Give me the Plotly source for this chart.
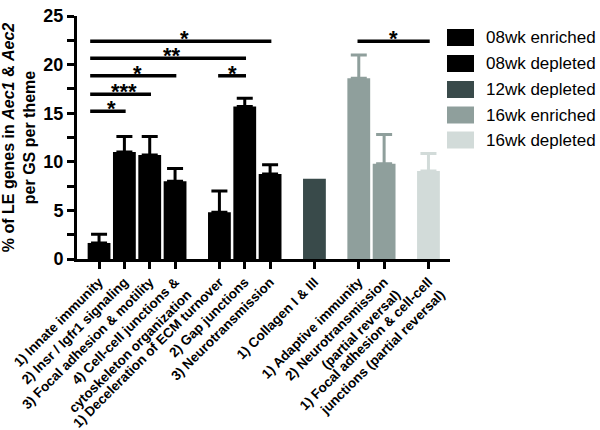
import plotly.graph_objects as go

# ---------------- data ----------------
positions = [0, 1, 2, 3, 4.75, 5.75, 6.75, 8.5, 10.25, 11.25, 13.0]
tick_labels = [
    "1) Innate immunity",
    "2) Insr / Igfr1 signaling",
    "3) Focal adhesion & motility",
    "4) Cell-cell junctions &<br>cytoskeleton organization",
    "1) Deceleration of ECM turnover",
    "2) Gap junctions",
    "3) Neurotransmission",
    "1) Collagen I & III",
    "1) Adaptive immunity",
    "2) Neurotransmission<br>(partial reversal)",
    "1) Focal adhesion & cell-cell<br>junctions (partial reversal)",
]

series_names = ["08wk enriched", "08wk depleted", "12wk depleted", "16wk enriched", "16wk depleted"]
series_colors = ["#000000", "#000000", "#394a4a", "#8f9f9c", "#d2dbd9"]
series_idx = [[0, 1, 2, 3], [4, 5, 6], [7], [8, 9], [10]]

values = [1.65, 11.0, 10.7, 8.0, 4.8, 15.7, 8.75, 8.25, 18.6, 9.8, 9.05]
errors = [0.9, 1.6, 1.9, 1.3, 2.2, 0.85, 0.95, None, 2.4, 3.0, 1.8]

# significance brackets: (left category index, right category index, level, label)
sig_pairs = [
    (0, 1, 15.2, "*"),
    (0, 2, 16.95, "***"),
    (0, 3, 18.85, "*"),
    (0, 5, 20.65, "**"),
    (0, 6, 22.4, "*"),
    (4, 5, 18.85, "*"),
    (8, 10, 22.4, "*"),
]
group1_line_start = -0.35

# ---------------- figure ----------------
FONT = "Liberation Sans, Arial, sans-serif"
fig = go.Figure()

for name, color, idxs in zip(series_names, series_colors, series_idx):
    xs = [positions[i] for i in idxs]
    ys = [values[i] for i in idxs]
    errs = [errors[i] for i in idxs]
    kw = {}
    if all(e is not None for e in errs):
        kw["error_y"] = dict(type="data", array=errs, arrayminus=[0] * len(errs),
                             symmetric=False, color=color, thickness=3, width=8)
    fig.add_trace(go.Bar(x=xs, y=ys, width=0.9, name=name, marker=dict(color=color, line=dict(width=0)),
                         showlegend=False, hoverinfo="skip", **kw))

# significance lines and stars
for li, ri, lvl, lab in sig_pairs:
    xl = positions[li]
    xr = positions[ri]
    x0 = group1_line_start if li == 0 else xl - 0.05
    fig.add_shape(type="line", x0=x0, x1=xr + 0.05, y0=lvl, y1=lvl, xref="x", yref="y",
                  line=dict(color="black", width=3.5))
    fig.add_annotation(x=(xl + xr) / 2, y=lvl, text=lab, showarrow=False, xref="x", yref="y",
                       yanchor="bottom", yshift=-12,
                       font=dict(family=FONT, size=22, color="black", weight="bold"))

# plot-area geometry in pixels (for custom legend)
L, R, T, B = 77, 450, 16, 259
W, H = R - L, B - T


def px_x(px):
    return (px - L) / W


def px_y(py):
    return (B - py) / H


leg_rows = [37.5, 63.5, 89.5, 115, 140]
for name, color, yc in zip(series_names, series_colors, leg_rows):
    fig.add_shape(type="rect", xref="paper", yref="paper",
                  x0=px_x(447), x1=px_x(474), y0=px_y(yc + 8.5), y1=px_y(yc - 8.5),
                  fillcolor=color, line=dict(width=0))
    fig.add_annotation(xref="paper", yref="paper", x=px_x(484), y=px_y(yc), text=name,
                       showarrow=False, xanchor="left", yanchor="middle",
                       font=dict(family=FONT, size=17, color="black"))

fig.update_layout(
    width=600, height=430,
    margin=dict(l=L, r=600 - R, t=T, b=430 - B, autoexpand=False),
    plot_bgcolor="white", paper_bgcolor="white",
    font=dict(family=FONT, color="black"),
    showlegend=False,
    xaxis=dict(
        range=[-0.87, 13.85], tickmode="array", tickvals=positions, ticktext=tick_labels,
        tickangle=-45, ticks="outside", ticklen=7, tickwidth=3, tickcolor="black",
        showline=True, linewidth=3, linecolor="black", showgrid=False, zeroline=False,
        tickfont=dict(family=FONT, size=13.5, color="black", weight="bold"), automargin=False,
    ),
    yaxis=dict(
        range=[0, 25], tickvals=[0, 5, 10, 15, 20, 25], ticks="outside", ticklen=7, tickwidth=3,
        tickcolor="black", showline=True, linewidth=3, linecolor="black", showgrid=False,
        zeroline=False, tickfont=dict(family=FONT, size=18, color="black", weight="bold"),
        minor=dict(tickvals=[2.5, 7.5, 12.5, 17.5, 22.5], ticks="outside", ticklen=7, tickwidth=3,
                   tickcolor="black", showgrid=False),
        title=dict(text="% of LE genes in <i>Aec1</i> & <i>Aec2</i><br>per GS per theme",
                   font=dict(family=FONT, size=16, color="black", weight="bold"), standoff=4),
        automargin=False,
    ),
)

fig.write_html("out.html", config={"displayModeBar": False},
               post_script="document.body.style.margin='0px';")
